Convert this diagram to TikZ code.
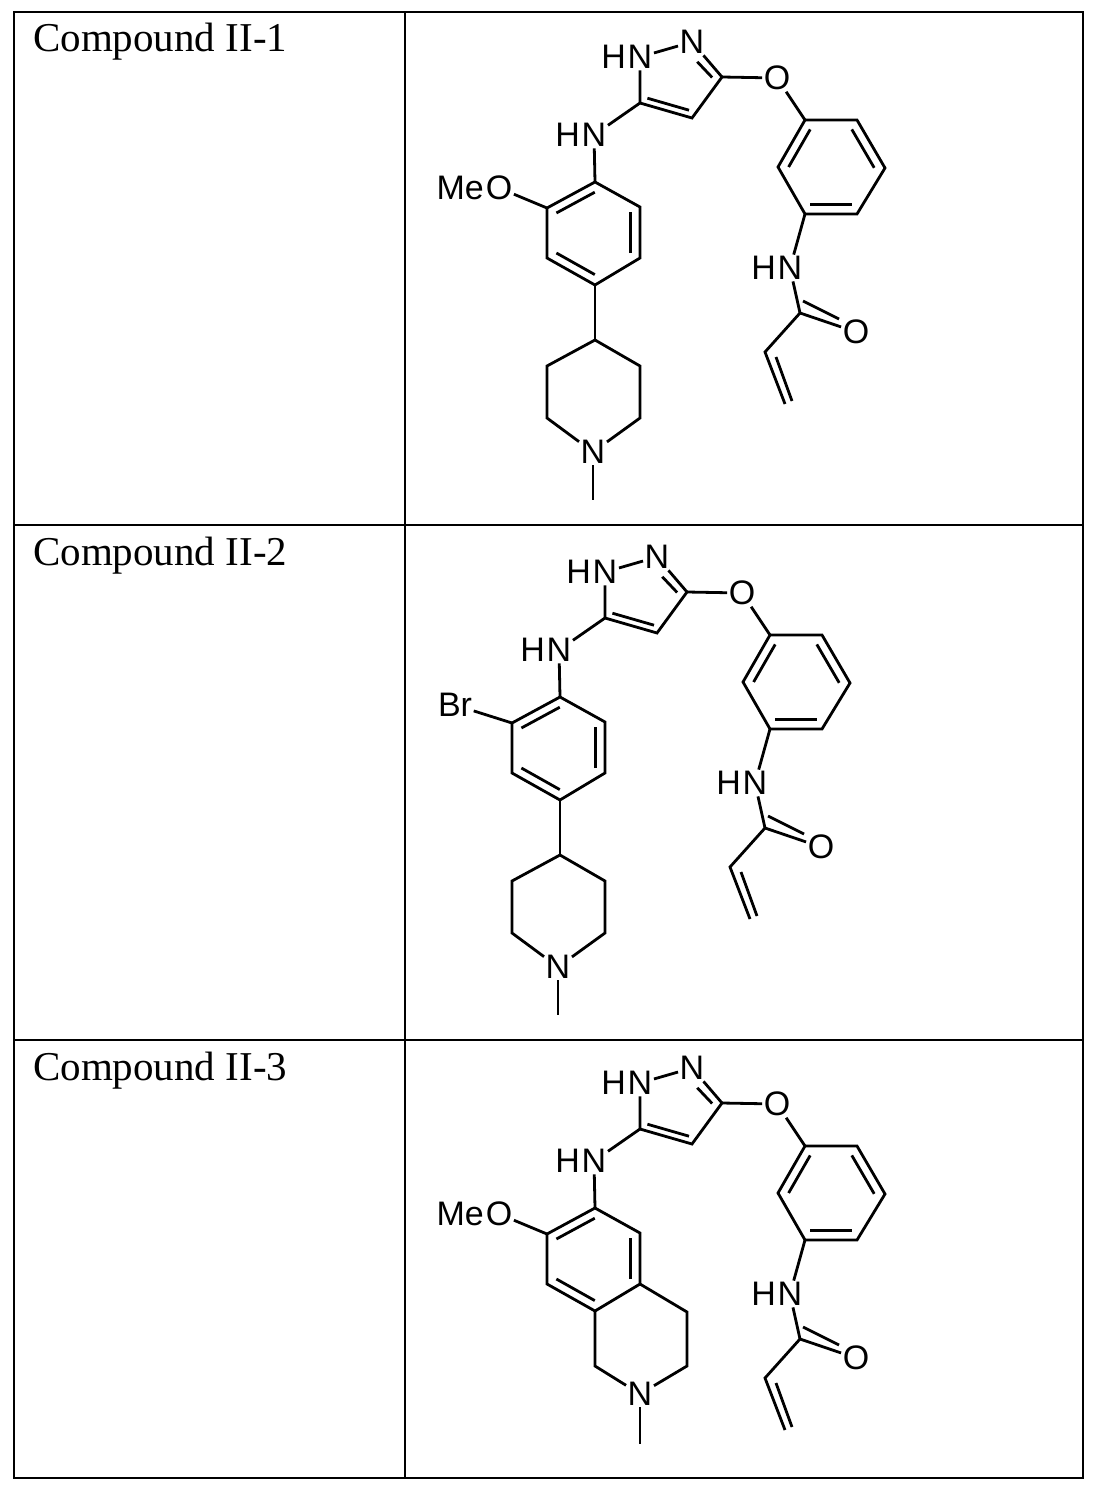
\documentclass[tikz,border=0pt]{standalone}
\usepackage{fontspec}
\setmainfont{Liberation Serif}
\newfontfamily\atomfont{Liberation Sans}
\usetikzlibrary{calc}
\tikzset{
  bond/.style={line width=2.8pt},
  grid/.style={line width=2.4pt},
  atom/.style={font=\atomfont\fontsize{34}{34}\selectfont, inner sep=1.5pt},
  hpre/.style={font=\atomfont\fontsize{34}{34}\selectfont, inner sep=0pt, anchor=east},
  clabel/.style={font=\fontsize{41}{42}\selectfont, anchor=base west, inner sep=0pt}
}
\newcommand{\innerbond}[3]{\draw[bond] ($(#1)!0.2!(#3)$) -- ($(#2)!0.2!(#3)$);}
\newcommand{\core}{%
  \node[atom] (N1) at (640,57) {N};
  \node[hpre] at (N1.west) {H};
  \node[atom] (N2) at (692,42) {N};
  \coordinate (C3) at (722,77);
  \coordinate (C4) at (692,118);
  \coordinate (C5) at (640,103);
  \coordinate (pz) at (677,79);
  \draw[bond] (N1) -- (N2) (N2) -- (C3) -- (C4) -- (C5) -- (N1);
  \draw[bond] ($($(N2)!0.4!(C3)$)!0.25!(pz)$) -- ($(C3)!0.22!(pz)$);
  \innerbond{C4}{C5}{pz}
  \node[atom] (O1) at (777,78) {O};
  \draw[bond] (C3) -- (O1);
  \node[atom] (NA) at (594,135) {N};
  \node[hpre] at (NA.west) {H};
  \draw[bond] (C5) -- (NA);
  \coordinate (A1) at (595,182); \coordinate (A2) at (547,208);
  \coordinate (A3) at (547,258); \coordinate (A4) at (595,285);
  \coordinate (A5) at (640,258); \coordinate (A6) at (640,207);
  \coordinate (ac) at (594,233);
  \draw[bond] (NA) -- (A1);
  \draw[bond] (A1) -- (A2) -- (A3) -- (A4) -- (A5) -- (A6) -- cycle;
  \innerbond{A1}{A2}{ac} \innerbond{A3}{A4}{ac} \innerbond{A5}{A6}{ac}
  \coordinate (B1) at (805,120); \coordinate (B2) at (857,120);
  \coordinate (B3) at (885,168); \coordinate (B4) at (857,214);
  \coordinate (B5) at (805,214); \coordinate (B6) at (778,167);
  \coordinate (bc) at (831,167);
  \draw[bond] (O1) -- (B1);
  \draw[bond] (B1) -- (B2) -- (B3) -- (B4) -- (B5) -- (B6) -- cycle;
  \innerbond{B1}{B6}{bc} \innerbond{B2}{B3}{bc} \innerbond{B4}{B5}{bc}
  \node[atom] (NB) at (790,268) {N};
  \node[hpre] at (NB.west) {H};
  \draw[bond] (B5) -- (NB);
  \coordinate (CC) at (800,313);
  \node[atom] (O2) at (856,332) {O};
  \draw[bond] (NB) -- (CC) -- (O2);
  \draw[bond] ($(CC)+(3,-12)$) -- ($(O2.west)+(-2,-13)$);
  \coordinate (V1) at (765,352); \coordinate (V2) at (785,404);
  \draw[bond] (CC) -- (V1) -- (V2);
  \draw[bond] ($(V1)+(11,5)$) -- ($(V2)+(7,-3)$);
}
\newcommand{\piperidine}{%
  \coordinate (P1) at (595,340); \coordinate (P2) at (640,366);
  \coordinate (P3) at (640,418); \coordinate (P5) at (547,418);
  \coordinate (P6) at (547,366);
  \node[atom] (PN) at (593,452) {N};
  \draw[bond] (A4) -- (P1);
  \draw[bond] (P1) -- (P2) -- (P3) -- (PN) -- (P5) -- (P6) -- (P1);
  \coordinate (PM) at (593,500);
  \draw[bond] (PN) -- (PM);
}
\begin{document}
\begin{tikzpicture}[x=1pt,y=-1pt]
\useasboundingbox (0,0) rectangle (1097,1493);
\fill[white] (0,0) rectangle (1097,1493);
\draw[grid] (14,12) rectangle (1083,1478);
\draw[grid] (405,12) -- (405,1478);
\draw[grid] (14,525) -- (1083,525);
\draw[grid] (14,1040) -- (1083,1040);
\node[clabel] (L1) at (33,52) {Compound II-1};
\node[clabel] (L2) at (33,565) {Compound II-2};
\node[clabel] (L3) at (33,1080) {Compound II-3};
\begin{scope}
  \core \piperidine
  \node[atom] (OM) at (499,188) {O};
  \node[hpre] at (OM.west) {Me};
  \draw[bond] (OM) -- (A2);
\end{scope}
\begin{scope}[shift={(-35,515)}]
  \core \piperidine
  \node[atom] (BR) at (490,190) {Br};
  \draw[bond] (BR) -- (A2);
\end{scope}
\begin{scope}[shift={(0,1026)}]
  \core
  \node[atom] (OM) at (499,188) {O};
  \node[hpre] at (OM.west) {Me};
  \draw[bond] (OM) -- (A2);
  \coordinate (T4) at (687,286); \coordinate (T3) at (687,340);
  \coordinate (T1) at (595,340);
  \node[atom] (TN) at (640,368) {N};
  \draw[bond] (A5) -- (T4) -- (T3) -- (TN) -- (T1) -- (A4);
  \coordinate (TM) at (640,418);
  \draw[bond] (TN) -- (TM);
\end{scope}
\end{tikzpicture}
\end{document}
